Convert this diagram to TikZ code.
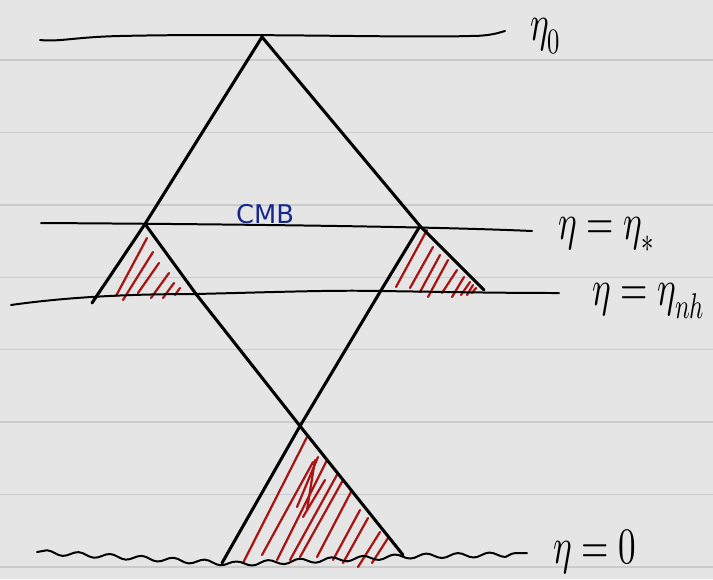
\documentclass[tikz,border=0pt]{standalone}
\usepackage{unicode-math}
\newfontfamily\cmbfont{DejaVu Sans}
\usetikzlibrary{decorations.pathmorphing}

\definecolor{paper}{RGB}{229,229,229}
\definecolor{ruling}{RGB}{203,203,203}
\definecolor{inkred}{RGB}{168,20,20}
\definecolor{inkblue}{RGB}{22,40,140}

\begin{document}
\begin{tikzpicture}[
  x=0.03cm,
  y=-0.03cm,
  line cap=round,
  line join=round,
  pen/.style={line width=2.6pt, black},
  slice/.style={line width=1.7pt, black},
  hatch/.style={line width=1.9pt, inkred},
  rule/.style={line width=1.2pt, ruling},
  lab/.style={anchor=west, inner sep=0pt,
    font=\fontsize{30}{36}\selectfont, yscale=1.45, transform shape}
]

% Lined paper
\fill[paper] (0,0) rectangle (713,579);
\useasboundingbox (0,0) rectangle (713,579);
\foreach \k in {0,...,7}{
  \draw[rule] (0,{60+72.4*\k}) -- (713,{60+72.4*\k});
}

% Corners of the light cones
\coordinate (apex)  at (262,37);
\coordinate (starL) at (145,224);
\coordinate (starR) at (420,226);
\coordinate (nhL)   at (196,294);
\coordinate (nhR)   at (380,292);
\coordinate (cross) at (300,426);
\coordinate (botL)  at (222,563);
\coordinate (botR)  at (403,555);
\coordinate (endL)  at (92,303);
\coordinate (endR)  at (484,290);

% Red hatching (drawn first, the ink goes over it)
\foreach \ax/\ay/\bx/\by in {
  116/296/147/238, 123/300/153/252, 138/293/159/263,
  151/298/169/273, 163/298/174/283, 175/295/180/288
}{
  \draw[hatch] (\ax,\ay) -- (\bx,\by);
}
\foreach \ax/\ay/\bx/\by in {
  396/287/427/230, 410/288/433/247, 420/292/440/255,
  428/297/448/260, 442/293/457/270, 452/297/464/277,
  461/295/470/282, 467/295/473/285, 472/293/476/288
}{
  \draw[hatch] (\ax,\ay) -- (\bx,\by);
}
\foreach \ax/\ay/\bx/\by in {
  243/563/307/437, 262/555/313/462, 277/560/327/460,
  290/560/338/473, 300/557/343/480, 317/557/352/490,
  333/560/360/510, 343/563/368/518, 358/567/380/532,
  372/563/388/538, 297/507/318/457, 303/517/325/480,
  307/510/315/460
}{
  \draw[hatch] (\ax,\ay) -- (\bx,\by);
}

% Time slices
\draw[slice]
  (40,40)
  .. controls (60,42) and (75,37) ..
     (120,36)
  .. controls (250,33) and (400,38) ..
     (470,36)
  .. controls (490,36) and (498,33) ..
     (505,31);

\draw[slice]
  (41,223)
  .. controls (200,224) and (420,226) ..
     (532,231);

\draw[slice]
  (11,305)
  .. controls (60,298) and (120,294) ..
     (195,294)
  .. controls (280,292) and (330,290) ..
     (380,291)
  .. controls (450,292) and (500,293) ..
     (559,293);

\draw[slice, decorate,
  decoration={snake, segment length=27pt, amplitude=2pt}]
  (37,552) -- (botL) -- (botR) -- (527,553);

% Light cones
\draw[pen] (endL) -- (starL) -- (apex) -- (starR) -- (endR);
\draw[pen] (starL) -- (nhL) -- (cross) -- (botR);
\draw[pen] (starR) -- (nhR) -- (cross) -- (botL);

% Labels
\node[font=\cmbfont\fontsize{22}{26}\selectfont, text=inkblue]
  (cmb) at (265,214) {CMB};
\node[lab] (etaO)    at (530,36)  {$\eta_0$};
\node[lab] (etaStar) at (558,235) {$\eta=\eta_*$};
\node[lab] (etaNh)   at (592,301) {$\eta=\eta_{nh}$};
\node[lab] (etaZero) at (553,552) {$\eta=0$};

\end{tikzpicture}
\end{document}
